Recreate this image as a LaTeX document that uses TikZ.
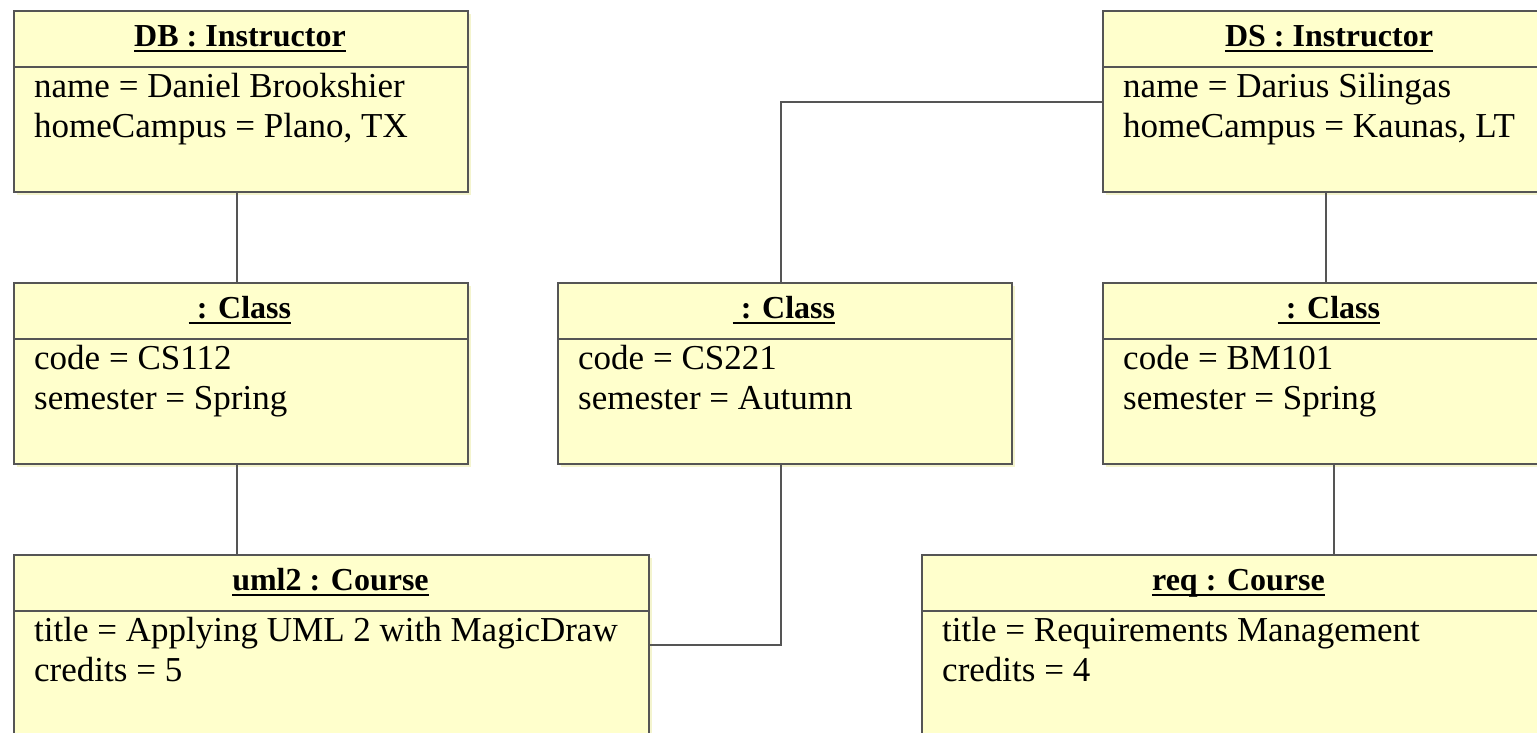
\documentclass[tikz,border=0pt]{standalone}
\usepackage{fontspec}
\setmainfont{Liberation Serif}
\definecolor{objfill}{RGB}{255,255,204}
\definecolor{objline}{RGB}{85,85,85}
\definecolor{objshade}{RGB}{244,244,206}
\newcommand\headfont{\fontsize{32}{38}\selectfont\bfseries}
\newcommand\bodyfont{\fontsize{35}{40}\selectfont}
\tikzset{
  objbox/.style={draw=objline, line width=2.2pt, fill=objfill, rectangle,
    anchor=north west, inner sep=0pt},
  objtext/.style={inner sep=0pt, text=black},
  conn/.style={draw=objline, line width=2.2pt},
}
% #1 name, #2 left, #3 top, #4 width, #5 height, #6 heading, #7/#8 attribute lines
\newcommand\objectbox[8]{%
  \fill[objshade] (#2+4,#3+4) rectangle ++(#4,#5);
  \node[objbox, minimum width=#4pt, minimum height=#5pt] (#1) at (#2,#3) {};
  \draw[conn] (#2,#3+57) -- ++(#4,0);
  \node[objtext, anchor=base, font=\headfont] (#1-h) at (#2+#4/2,#3+36) {#6};
  \draw[line width=2.6pt] ([yshift=-5pt]#1-h.base west) -- ([yshift=-5pt]#1-h.base east);
  \node[objtext, anchor=base west, font=\bodyfont] (#1-a) at (#2+21,#3+87) {#7};
  \node[objtext, anchor=base west, font=\bodyfont] (#1-b) at (#2+21,#3+127) {#8};
}
\begin{document}
\begin{tikzpicture}[x=1pt, y=-1pt]
  \useasboundingbox (0,0) rectangle (1537,732);
  \clip (0,0) rectangle (1537,732);
  \fill[white] (0,0) rectangle (1537,732);

  % instructors
  \objectbox{db}{13}{10}{454}{181}{DB : Instructor}{name = Daniel Brookshier}{homeCampus = Plano, TX}
  \objectbox{ds}{1102}{10}{454}{181}{DS : Instructor}{name = Darius Silingas}{homeCampus = Kaunas, LT}

  % classes
  \objectbox{c1}{13}{282}{454}{181}{\hspace*{0.25em}: Class}{code = CS112}{semester = Spring}
  \objectbox{c2}{557}{282}{454}{181}{\hspace*{0.25em}: Class}{code = CS221}{semester = Autumn}
  \objectbox{c3}{1102}{282}{454}{181}{\hspace*{0.25em}: Class}{code = BM101}{semester = Spring}

  % courses
  \objectbox{uml2}{13}{554}{635}{180}{uml2 : Course}{title = Applying UML 2 with MagicDraw}{credits = 5}
  \objectbox{req}{921}{554}{635}{180}{req : Course}{title = Requirements Management}{credits = 4}

  % links
  \coordinate (dbb) at ([xshift=-4pt]db.south);
  \coordinate (c1b) at ([xshift=-4pt]c1.south);
  \coordinate (c2b) at ([xshift=-4pt]c2.south);
  \coordinate (c2t) at ([xshift=-4pt]c2.north);
  \coordinate (dsb) at ([xshift=-4pt]ds.south);
  \coordinate (c3b) at ([xshift=4pt]c3.south);

  \draw[conn] (dbb) -- (dbb |- c1.north);
  \draw[conn] (c1b) -- (c1b |- uml2.north);
  \draw[conn] (uml2.east) -| (c2b);
  \draw[conn] (c2t) |- (ds.west);
  \draw[conn] (dsb) -- (dsb |- c3.north);
  \draw[conn] (c3b) -- (c3b |- req.north);
\end{tikzpicture}
\end{document}
